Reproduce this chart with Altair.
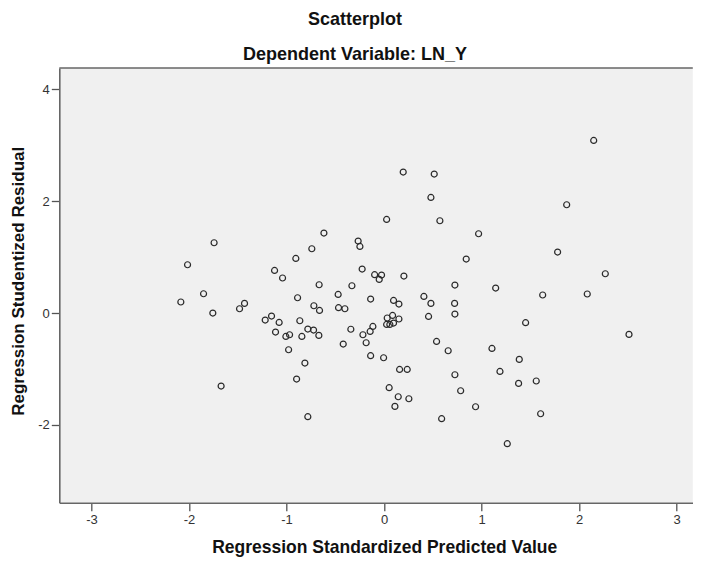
import altair as alt
import pandas as pd

# Regression standardized predicted value (x) and studentized residual (y)
pred = [
    -0.617, -1.743, -0.741, -0.905, -2.015, -1.123, -1.041, -0.666, -1.851, -1.431,
    -2.084, -1.482, -1.756, -0.887, -0.471, -0.720, -0.662, -0.467, -0.402, -1.154,
    -1.219, -1.076, -0.864, -0.341, -0.782, -0.723, -1.113, -0.969, -1.007, -0.843,
    -0.669, -0.419, -0.979, -0.812, -0.897, -1.671, -0.782, -0.330, 0.196, 0.514,
    0.480, 0.026, 0.572, 0.969, -0.266, -0.248, 0.842, -0.225, -0.097, -0.026,
    -0.050, 0.203, 0.726, 1.144, -0.138, 0.408, 0.097, 0.152, 0.480, 0.723,
    0.032, 0.087, 0.152, 0.456, 0.726, 0.026, 0.059, 0.097, -0.115, -0.143,
    -0.217, -0.184, 0.538, 1.451, -0.138, -0.005, 0.657, 1.106, 1.386, 0.159,
    0.237, 0.726, 1.188, 1.379, 0.052, 0.785, 0.145, 0.254, 0.111, 0.938,
    0.590, 1.263, 2.149, 1.872, 1.779, 2.268, 1.626, 2.083, 2.511, 1.560,
    1.605,
]
resid = [
    1.430, 1.256, 1.149, 0.976, 0.863, 0.761, 0.626, 0.506, 0.345, 0.172,
    0.197, 0.077, 0.000, 0.273, 0.332, 0.130, 0.046, 0.095, 0.077, -0.054,
    -0.125, -0.168, -0.138, -0.290, -0.286, -0.304, -0.340, -0.388, -0.418, -0.418,
    -0.400, -0.554, -0.656, -0.894, -1.180, -1.305, -1.853, 0.488, 2.520, 2.484,
    2.066, 1.673, 1.650, 1.417, 1.287, 1.190, 0.965, 0.786, 0.685, 0.679,
    0.601, 0.661, 0.500, 0.447, 0.250, 0.297, 0.225, 0.161, 0.172, 0.172,
    -0.089, -0.043, -0.107, -0.061, -0.018, -0.204, -0.204, -0.179, -0.240, -0.329,
    -0.388, -0.531, -0.508, -0.173, -0.763, -0.799, -0.674, -0.633, -0.829, -1.008,
    -1.008, -1.103, -1.044, -1.258, -1.335, -1.389, -1.496, -1.532, -1.669, -1.675,
    -1.889, -2.336, 3.085, 1.936, 1.090, 0.702, 0.322, 0.340, -0.382, -1.215,
    -1.800,
]

x_ticks = [-3, -2, -1, 0, 1, 2, 3]
y_ticks = [-2, 0, 2, 4]

df = pd.DataFrame({"pred": pred, "resid": resid})

W = 633.5
H = 434.7
FONT = "Liberation Sans"

points = alt.Chart(df).mark_point(
    shape="circle", filled=False, size=36, strokeWidth=1.2, color="#2a2a2a", opacity=1
).encode(
    x=alt.X(
        "pred:Q",
        scale=alt.Scale(domain=[-3.33, 3.165], nice=False, zero=False),
        axis=alt.Axis(
            values=x_ticks,
            title="Regression Standardized Predicted Value",
            grid=False,
            tickSize=8,
            tickColor="#555555",
            tickWidth=1.3,
            domainColor="#666666",
            domainWidth=1.6,
            labelPadding=3,
            labelFontSize=13,
            labelColor="#333333",
            labelExpr="'' + datum.value",
            titleFontSize=17.5,
            titleFontWeight="bold",
            titleColor="#111111",
            titleX=324.9,
            titleY=49.8,
            titleBaseline="alphabetic",
        ),
    ),
    y=alt.Y(
        "resid:Q",
        scale=alt.Scale(domain=[-3.39, 4.38], nice=False, zero=False),
        axis=alt.Axis(
            values=y_ticks,
            title="Regression Studentized Residual",
            grid=False,
            tickSize=8,
            tickColor="#555555",
            tickWidth=1.3,
            domainColor="#666666",
            domainWidth=1.6,
            labelPadding=2,
            labelFontSize=13,
            labelColor="#333333",
            labelExpr="'' + datum.value",
            titleFontSize=17,
            titleFontWeight="bold",
            titleColor="#111111",
            titleX=-35.5,
            titleY=212.8,
            titleBaseline="alphabetic",
        ),
    ),
)

top_border = alt.Chart(alt.Data(values=[{"a": 1}])).mark_rule(
    color="#666666", strokeWidth=1.6
).encode(x=alt.value(0), x2=alt.value(W), y=alt.value(0))

chart = alt.layer(top_border, points).properties(
    width=W,
    height=H,
    autosize=alt.AutoSizeParams(type="none"),
    padding={"left": 51.3, "top": 60, "right": 0, "bottom": 58},
    title=alt.TitleParams(
        text="Scatterplot",
        subtitle="Dependent Variable: LN_Y",
        fontSize=18,
        fontWeight="bold",
        color="#111111",
        subtitleFontSize=18,
        subtitleFontWeight="bold",
        subtitleColor="#111111",
        subtitlePadding=17,
        anchor="middle",
        frame="group",
        dx=-21,
        offset=3.5,
    ),
).configure(
    font=FONT,
    background="white",
).configure_view(
    fill="#F0F0F0",
    stroke=None,
)

chart.save("out.html", embed_options={"renderer": "svg", "actions": False})
